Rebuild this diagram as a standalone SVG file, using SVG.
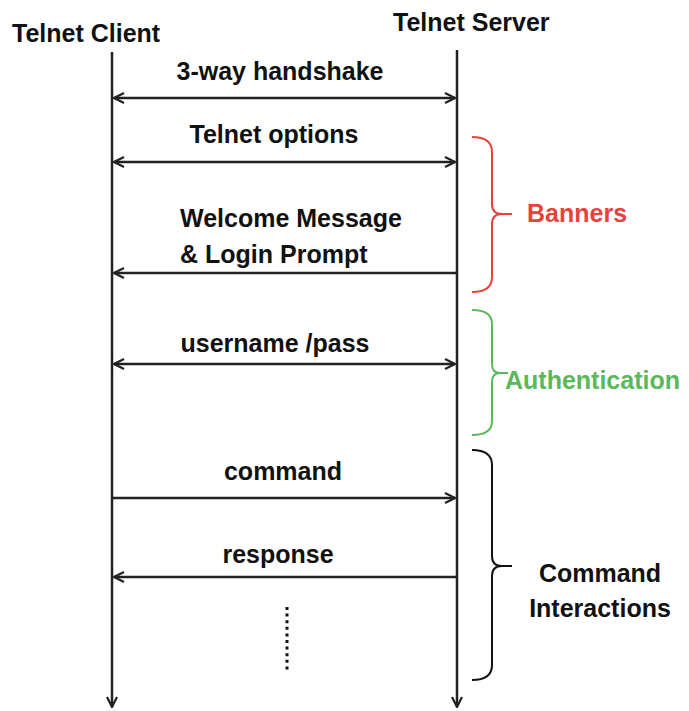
<svg xmlns="http://www.w3.org/2000/svg" width="689" height="711" viewBox="0 0 689 711">
<style>
.hdr{font-family:"Liberation Sans",Arial,sans-serif;font-weight:bold;font-size:25px;fill:#111}
.lbl{font-family:"Liberation Sans",Arial,sans-serif;font-weight:bold;font-size:25px;fill:#111}
.side{font-family:"Liberation Sans",Arial,sans-serif;font-weight:bold;font-size:25px}
.life{stroke:#222;stroke-width:2.5;fill:none}
.msg{stroke:#222;stroke-width:2.5;fill:none}
.brace{fill:none;stroke-width:2}
</style>
<defs>
<marker id="ah" viewBox="0 0 12 12" refX="11" refY="6" markerWidth="12" markerHeight="12" markerUnits="userSpaceOnUse" orient="auto-start-reverse">
<path d="M1,1 L11,6 L1,11" fill="none" stroke="#222" stroke-width="2.2" stroke-linejoin="miter"/>
</marker>
</defs>
<rect width="689" height="711" fill="#fff"/>
<g id="client">
<text class="hdr" x="12" y="42">Telnet Client</text>
<line class="life" x1="112" y1="52" x2="112" y2="707" marker-end="url(#ah)"/>
</g>
<g id="server">
<text class="hdr" x="393" y="31">Telnet Server</text>
<line class="life" x1="457" y1="50" x2="457" y2="707" marker-end="url(#ah)"/>
</g>
<g id="connectors">
<line class="msg" x1="114" y1="98" x2="455" y2="98" marker-start="url(#ah)" marker-end="url(#ah)"/>
<line class="msg" x1="114" y1="162" x2="455" y2="162" marker-start="url(#ah)" marker-end="url(#ah)"/>
<line class="msg" x1="456" y1="273" x2="114" y2="273" marker-end="url(#ah)"/>
<line class="msg" x1="114" y1="364" x2="455" y2="364" marker-start="url(#ah)" marker-end="url(#ah)"/>
<line class="msg" x1="113" y1="498" x2="455" y2="498" marker-end="url(#ah)"/>
<line class="msg" x1="456" y1="577" x2="114" y2="577" marker-end="url(#ah)"/>
<line x1="287" y1="607" x2="287" y2="672" stroke="#111" stroke-width="3" stroke-dasharray="3 3.6"/>
</g>
<g id="labels">
<text class="lbl" x="280" y="80" text-anchor="middle">3-way handshake</text>
<text class="lbl" x="274" y="143" text-anchor="middle">Telnet options</text>
<text class="lbl" x="180" y="227">Welcome Message</text>
<text class="lbl" x="180" y="263">&amp; Login Prompt</text>
<text class="lbl" x="275" y="352" text-anchor="middle">username /pass</text>
<text class="lbl" x="283" y="480" text-anchor="middle">command</text>
<text class="lbl" x="278" y="563" text-anchor="middle">response</text>
</g>
<g id="banners">
<path class="brace" stroke="#e8433a" d="M472,137 Q492,137 492,152 L492,204 Q492,214 502,214 L512,214 M502,214 Q492,214 492,224 L492,277 Q492,292 472,292"/>
<text class="side" x="527" y="222" fill="#e8433a">Banners</text>
</g>
<g id="authentication">
<path class="brace" stroke="#5cb85c" d="M472,310 Q492,310 492,324 L492,364 Q492,373 500,373 L508,373 M500,373 Q492,373 492,382 L492,421 Q492,435 472,435"/>
<text class="side" x="505" y="389" fill="#5cb85c" font-size="26">Authentication</text>
</g>
<g id="command-interactions">
<path class="brace" stroke="#111" d="M472,450 Q492,450 492,465 L492,556 Q492,566 502,566 L512,566 M502,566 Q492,566 492,576 L492,665 Q492,680 472,680"/>
<text class="side" x="600" y="582" text-anchor="middle" fill="#111">Command</text>
<text class="side" x="600" y="617" text-anchor="middle" fill="#111">Interactions</text>
</g>
</svg>
